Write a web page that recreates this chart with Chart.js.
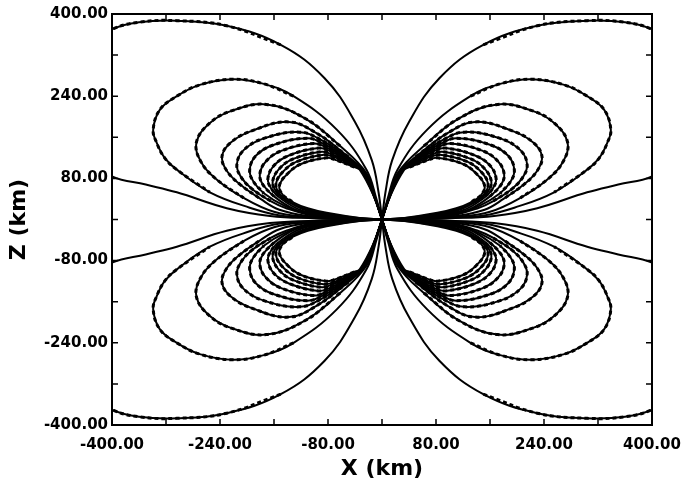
<!DOCTYPE html>
<html>
<head>
<meta charset="utf-8">
<script src="https://cdn.jsdelivr.net/npm/chart.js@4.4.1/dist/chart.umd.min.js"></script>
<style>
  body { margin: 0; background: #fff; }
  canvas { display: block; }
</style>
</head>
<body>
<canvas id="fieldChart" width="683" height="481"></canvas>
<script>
// Field lines, upper-left quadrant, [x km, z km].
// The figure is symmetric in x and z, the other quadrants are mirrored below.
const line1 = [[0,0],[-5,52],[-15,115],[-40,190],[-85,275],[-150,340],[-230,377],[-304,387],[-360,384],[-400,370],[-440,335],[-468,270],[-470,190],[-440,120],[-400,84],[-350,68],[-304,53],[-230,22],[-166,7],[-100,2.5],[-45,1],[0,0]];
const line2 = [[0,0],[-8,39],[-23,97],[-67,175],[-131,240],[-175,264],[-221,273],[-270,262],[-304,240],[-329,214],[-339,175],[-334,150],[-322,120],[-304,97],[-255,53],[-196,23],[-151,8],[-100,3],[-50,1],[0,0]];
const line3 = [[0,0],[-9,38],[-23,90],[-62,143],[-113,196],[-171,224],[-222,212],[-255,188],[-275,150],[-268,112],[-245,78],[-205,42],[-160,15],[-110,5],[-55,1.5],[0,0]];
const line4 = [[0,0],[-10,41],[-25,91],[-50,122],[-97,168],[-138,190],[-192,173],[-224,150],[-237,123],[-230,95],[-210,68],[-180,40],[-152,19],[-110,7],[-55,2.5],[0,0]];
const line5 = [[0,0],[-10.5,43],[-26,92],[-48,118],[-89,154],[-122,170],[-175,158],[-205,135],[-215,107],[-209,83],[-193,60],[-165,36],[-140,21],[-100,7],[-45,1.5],[0,0]];
const line6 = [[0,0],[-11,44],[-27,93],[-46.5,115],[-84,145.5],[-110,158],[-161,145],[-187,124],[-196,97],[-191,75],[-175,51],[-145,27],[-110,11],[-45,1.7],[0,0]];
const line7 = [[0,0],[-11.5,45],[-28,94],[-45,112],[-80,138.5],[-101,148],[-148.5,134],[-172,113],[-181,88],[-176,67],[-160,45],[-130,20],[-100,10],[-42,1.9],[0,0]];
const line8 = [[0,0],[-12,46],[-29,95],[-44,109.5],[-76.5,132.5],[-94,139],[-138,124.5],[-160,105],[-169,80],[-164,60],[-150,41],[-120,18],[-82,9],[-39,2.1],[0,0]];
const line9 = [[0,0],[-12,47],[-30,96],[-43,107],[-73,126],[-89,132],[-131.5,118],[-152,99],[-162,74],[-157,55],[-143,38],[-115,19],[-82,10],[-37,2.4],[0,0]];
const line10 = [[0,0],[-12.5,47],[-31,96],[-42,104.5],[-70,121],[-86,126],[-125.5,113],[-146,94],[-157,70],[-152,50],[-137,34],[-112,20],[-82,11.5],[-35,2.7],[0,0]];
const line11 = [[0,0],[-13,48],[-33,97],[-41,102],[-66.5,115],[-82,120],[-120,108],[-140,89],[-152,66],[-147,48],[-131,33],[-110,22],[-82,13],[-33,3],[0,0]];

const fieldLines = [line1, line2, line3, line4, line5, line6, line7, line8, line9, line10, line11];
// part of each line where the dashed copy shows
const dashSpans = [[5,15],[4,15],[3,12],[3,12],[3,12],[3,11],[3,11],[3,11],[3,11],[3,11],[3,11]];

const tickValues = [-400, -240, -80, 80, 240, 400];

const quadrants = [[1,1],[-1,1],[1,-1],[-1,-1]];
const datasets = [];
quadrants.forEach(([sx, sz]) => {
    fieldLines.forEach((pts, i) => {
        const data = pts.map(([x, z]) => ({x: sx * x, y: sz * z}));
        datasets.push({
            data: data,
            showLine: true,
            borderColor: '#000',
            borderWidth: 2,
            pointRadius: 0
        });
        const [a, b] = dashSpans[i];
        datasets.push({
            data: data.slice(a, b),
            showLine: true,
            borderColor: '#000',
            borderWidth: 3,
            borderDash: [4, 3],
            pointRadius: 0
        });
    });
});

// frame with inward ticks on all four sides
const frameTicks = {
    id: 'frameTicks',
    afterDatasetsDraw(chart) {
        const {ctx, chartArea: a, scales: {x, y}} = chart;
        ctx.save();
        ctx.strokeStyle = '#000';
        ctx.lineWidth = 2;
        ctx.strokeRect(a.left, a.top, a.right - a.left, a.bottom - a.top);
        ctx.lineWidth = 1.5;
        ctx.beginPath();
        x.ticks.forEach(t => {
            const px = x.getPixelForValue(t.value);
            ctx.moveTo(px, a.bottom); ctx.lineTo(px, a.bottom - 6);
            ctx.moveTo(px, a.top); ctx.lineTo(px, a.top + 6);
        });
        y.ticks.forEach(t => {
            const py = y.getPixelForValue(t.value);
            ctx.moveTo(a.left, py); ctx.lineTo(a.left + 6, py);
            ctx.moveTo(a.right, py); ctx.lineTo(a.right - 6, py);
        });
        ctx.stroke();
        ctx.restore();
    }
};

function tickLabel(v) {
    return tickValues.includes(Math.round(v)) ? Number(v).toFixed(2) : '';
}

Chart.defaults.font.family = 'DejaVu Sans';
Chart.defaults.font.weight = 'bold';
Chart.defaults.color = '#000';

const ctx = document.getElementById('fieldChart').getContext('2d');
new Chart(ctx, {
    type: 'scatter',
    data: {datasets: datasets},
    options: {
        responsive: false,
        animation: false,
        layout: {autoPadding: false, padding: {top: 14, right: 31, left: 0, bottom: 0}},
        elements: {line: {tension: 0.4, capBezierPoints: false}},
        plugins: {legend: {display: false}, tooltip: {enabled: false}},
        scales: {
            x: {
                type: 'linear',
                min: -400,
                max: 400,
                afterFit(scale) { scale.height = 56; },
                // tickLength only pushes the labels down, the grid itself is not drawn
                grid: {display: false, drawTicks: true, tickLength: 9},
                border: {display: false},
                ticks: {stepSize: 80, autoSkip: false, maxRotation: 0, padding: 2,
                        font: {size: 15, weight: 'bold'}, callback: tickLabel},
                title: {display: true, text: 'X (km)', font: {size: 22, weight: 'bold', lineHeight: 1.1},
                        padding: {top: 0, bottom: 0}}
            },
            y: {
                type: 'linear',
                min: -400,
                max: 400,
                afterFit(scale) { scale.width = 112; },
                grid: {display: false, drawTicks: false},
                border: {display: false},
                ticks: {stepSize: 80, autoSkip: false, padding: 4,
                        font: {size: 15, weight: 'bold'}, callback: tickLabel},
                title: {display: true, text: 'Z (km)', font: {size: 22, weight: 'bold', lineHeight: 1.1},
                        padding: {top: 7, bottom: 0}}
            }
        }
    },
    plugins: [frameTicks]
});
</script>
</body>
</html>
